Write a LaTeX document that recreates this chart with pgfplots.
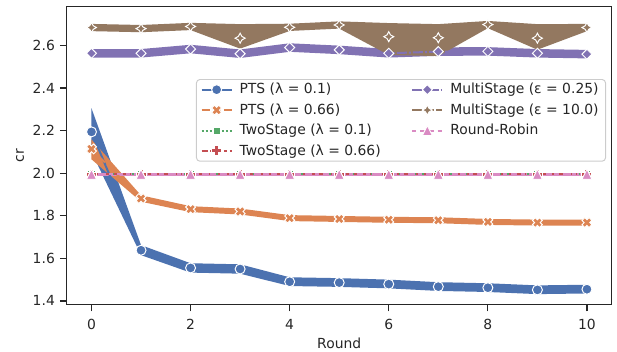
\documentclass[border=0pt]{standalone}
\usepackage{pgfplots}
\pgfplotsset{compat=1.18}
\usepackage{fontspec}
\setmainfont{DejaVu Sans}
\definecolor{sbblue}{HTML}{4C72B0}
\definecolor{sborange}{HTML}{DD8452}
\definecolor{sbgreen}{HTML}{55A868}
\definecolor{sbred}{HTML}{C44E52}
\definecolor{sbpurple}{HTML}{8172B3}
\definecolor{sbbrown}{HTML}{937860}
\definecolor{sbpink}{HTML}{DA8BC3}
\definecolor{txt}{HTML}{262626}
\definecolor{legframe}{HTML}{CCCCCC}

\pgfdeclareplotmark{sbX}{%
  \pgfpathmoveto{\pgfpoint{-0.424\pgfplotmarksize}{-0.99\pgfplotmarksize}}%
  \pgfpathlineto{\pgfpoint{-0.99\pgfplotmarksize}{-0.424\pgfplotmarksize}}%
  \pgfpathlineto{\pgfpoint{-0.566\pgfplotmarksize}{0pt}}%
  \pgfpathlineto{\pgfpoint{-0.99\pgfplotmarksize}{0.424\pgfplotmarksize}}%
  \pgfpathlineto{\pgfpoint{-0.424\pgfplotmarksize}{0.99\pgfplotmarksize}}%
  \pgfpathlineto{\pgfpoint{0pt}{0.566\pgfplotmarksize}}%
  \pgfpathlineto{\pgfpoint{0.424\pgfplotmarksize}{0.99\pgfplotmarksize}}%
  \pgfpathlineto{\pgfpoint{0.99\pgfplotmarksize}{0.424\pgfplotmarksize}}%
  \pgfpathlineto{\pgfpoint{0.566\pgfplotmarksize}{0pt}}%
  \pgfpathlineto{\pgfpoint{0.99\pgfplotmarksize}{-0.424\pgfplotmarksize}}%
  \pgfpathlineto{\pgfpoint{0.424\pgfplotmarksize}{-0.99\pgfplotmarksize}}%
  \pgfpathlineto{\pgfpoint{0pt}{-0.566\pgfplotmarksize}}%
  \pgfpathclose\pgfusepathqfillstroke}
\pgfdeclareplotmark{sbP}{%
  \pgfpathmoveto{\pgfpoint{-\pgfplotmarksize}{-0.4\pgfplotmarksize}}%
  \pgfpathlineto{\pgfpoint{-\pgfplotmarksize}{0.4\pgfplotmarksize}}%
  \pgfpathlineto{\pgfpoint{-0.4\pgfplotmarksize}{0.4\pgfplotmarksize}}%
  \pgfpathlineto{\pgfpoint{-0.4\pgfplotmarksize}{\pgfplotmarksize}}%
  \pgfpathlineto{\pgfpoint{0.4\pgfplotmarksize}{\pgfplotmarksize}}%
  \pgfpathlineto{\pgfpoint{0.4\pgfplotmarksize}{0.4\pgfplotmarksize}}%
  \pgfpathlineto{\pgfpoint{\pgfplotmarksize}{0.4\pgfplotmarksize}}%
  \pgfpathlineto{\pgfpoint{\pgfplotmarksize}{-0.4\pgfplotmarksize}}%
  \pgfpathlineto{\pgfpoint{0.4\pgfplotmarksize}{-0.4\pgfplotmarksize}}%
  \pgfpathlineto{\pgfpoint{0.4\pgfplotmarksize}{-\pgfplotmarksize}}%
  \pgfpathlineto{\pgfpoint{-0.4\pgfplotmarksize}{-\pgfplotmarksize}}%
  \pgfpathlineto{\pgfpoint{-0.4\pgfplotmarksize}{-0.4\pgfplotmarksize}}%
  \pgfpathclose\pgfusepathqfillstroke}
\pgfdeclareplotmark{sbsq}{%
  \pgfpathrectanglecorners{\pgfpoint{-0.707\pgfplotmarksize}{-0.707\pgfplotmarksize}}{\pgfpoint{0.707\pgfplotmarksize}{0.707\pgfplotmarksize}}%
  \pgfusepathqfillstroke}
\pgfdeclareplotmark{sbdiam}{%
  \pgfpathmoveto{\pgfpoint{0pt}{\pgfplotmarksize}}%
  \pgfpathlineto{\pgfpoint{\pgfplotmarksize}{0pt}}%
  \pgfpathlineto{\pgfpoint{0pt}{-\pgfplotmarksize}}%
  \pgfpathlineto{\pgfpoint{-\pgfplotmarksize}{0pt}}%
  \pgfpathclose\pgfusepathqfillstroke}
\pgfdeclareplotmark{sbstar}{%
  \pgfpathmoveto{\pgfpoint{0pt}{\pgfplotmarksize}}%
  \pgfpathlineto{\pgfpoint{0.354\pgfplotmarksize}{0.354\pgfplotmarksize}}%
  \pgfpathlineto{\pgfpoint{\pgfplotmarksize}{0pt}}%
  \pgfpathlineto{\pgfpoint{0.354\pgfplotmarksize}{-0.354\pgfplotmarksize}}%
  \pgfpathlineto{\pgfpoint{0pt}{-\pgfplotmarksize}}%
  \pgfpathlineto{\pgfpoint{-0.354\pgfplotmarksize}{-0.354\pgfplotmarksize}}%
  \pgfpathlineto{\pgfpoint{-\pgfplotmarksize}{0pt}}%
  \pgfpathlineto{\pgfpoint{-0.354\pgfplotmarksize}{0.354\pgfplotmarksize}}%
  \pgfpathclose\pgfusepathqfillstroke}
\pgfdeclareplotmark{sbtri}{%
  \pgfpathmoveto{\pgfpoint{0pt}{\pgfplotmarksize}}%
  \pgfpathlineto{\pgfpoint{\pgfplotmarksize}{-\pgfplotmarksize}}%
  \pgfpathlineto{\pgfpoint{-\pgfplotmarksize}{-\pgfplotmarksize}}%
  \pgfpathclose\pgfusepathqfillstroke}

\tikzset{
  sbline/.style={line width=1.45pt, mark size=3.6pt},
  mk/.style={mark options={solid, fill=#1, draw=white, line width=0.7pt}},
  sPTSa/.style={sbline, color=sbblue, solid, mark=*, mk=sbblue},
  sPTSb/.style={sbline, color=sborange, dash pattern=on 5.8pt off 2.2pt, mark=sbX, mk=sborange},
  sTSa/.style={sbline, color=sbgreen, dash pattern=on 1.45pt off 1.45pt, mark=sbsq, mk=sbgreen},
  sTSb/.style={sbline, color=sbred, dash pattern=on 4.35pt off 1.8pt on 2.2pt off 1.8pt, mark=sbP, mk=sbred},
  sMSa/.style={sbline, color=sbpurple, dash pattern=on 7.25pt off 1.45pt on 1.45pt off 1.45pt, mark=sbdiam, mk=sbpurple},
  sMSb/.style={sbline, color=sbbrown, dash pattern=on 7.25pt off 1.45pt on 2.9pt off 1.45pt on 2.9pt off 1.45pt, mark=sbstar, mk=sbbrown},
  sRR/.style={sbline, color=sbpink, dash pattern=on 2.9pt off 2.9pt on 4.35pt off 2.2pt, mark=sbtri, mk=sbpink},
}

\begin{document}
\begin{tikzpicture}
\begin{axis}[
  name=ax,
  scale only axis,
  width=392.2pt, height=214.2pt,
  xmin=-0.5, xmax=10.5,
  ymin=1.384, ymax=2.782,
  xtick={0,2,4,6,8,10},
  ytick={1.4,1.6,1.8,2.0,2.2,2.4,2.6},
  yticklabel style={/pgf/number format/fixed, /pgf/number format/fixed zerofill, /pgf/number format/precision=1},
  /pgf/number format/assume math mode=true,
  tick align=outside,
  tick pos=left,
  major tick length=5pt,
  axis line style={color=txt, line width=0.9pt},
  every tick/.style={color=txt, line width=0.9pt},
  tick label style={font=\fontsize{10}{12}\selectfont, color=txt},
  xticklabel style={yshift=-2.5pt},
  xlabel={Round},
  ylabel={cr},
  label style={font=\fontsize{10}{12}\selectfont, color=txt},
  xlabel style={at={(axis description cs:0.5,-0.13)}, anchor=center},
  ylabel style={at={(axis description cs:-0.0857,0.5)}, anchor=center},
  legend columns=2,
  legend cell align=left,
  legend image code/.code={\draw[mark repeat=2,mark phase=2] plot coordinates {(0pt,0pt) (10.8pt,0pt) (21.6pt,0pt)};},
  legend style={
    at={(0.2372,0.757)}, anchor=north west,
    draw=legframe, line width=0.7pt, rounded corners=2.5pt, fill=white,
    font=\fontsize{10}{12}\selectfont, text=txt,
    inner xsep=3pt, inner ysep=0.8pt,
    row sep=1.6pt,
    /tikz/every odd column/.append style={column sep=3pt},
    /tikz/every even column/.append style={column sep=20pt},
  },
]
% ---- confidence bands ----
\addplot[forget plot, draw=none, fill=sbblue] coordinates {
 (0,2.305) (1,1.662) (2,1.577) (3,1.572) (4,1.511) (5,1.507) (6,1.500) (7,1.488) (8,1.483) (9,1.473) (10,1.476)
 (10,1.435) (9,1.432) (8,1.442) (7,1.447) (6,1.459) (5,1.466) (4,1.470) (3,1.528) (2,1.533) (1,1.615) (0,2.100)};
\addplot[forget plot, draw=none, fill=sborange] coordinates {
 (0,2.158) (1,1.896) (2,1.845) (3,1.834) (4,1.803) (5,1.799) (6,1.795) (7,1.793) (8,1.785) (9,1.782) (10,1.782)
 (10,1.754) (9,1.754) (8,1.757) (7,1.765) (6,1.767) (5,1.771) (4,1.775) (3,1.806) (2,1.817) (1,1.866) (0,2.065)};
\addplot[forget plot, draw=none, fill=sbgreen] coordinates {
 (0,2.001) (10,2.001) (10,1.989) (0,1.989)};
\addplot[forget plot, draw=none, fill=sbred] coordinates {
 (0,2.001) (10,2.001) (10,1.989) (0,1.989)};
\addplot[forget plot, draw=none, fill=sbpurple] coordinates {
 (0,2.583) (1,2.583) (2,2.603) (3,2.581) (4,2.610) (5,2.599) (6,2.583) (7,2.591) (8,2.592) (9,2.583) (10,2.579)
 (10,2.539) (9,2.543) (8,2.552) (7,2.551) (6,2.543) (5,2.559) (4,2.570) (3,2.541) (2,2.563) (1,2.543) (0,2.543)};
\addplot[forget plot, draw=none, fill=sbbrown] coordinates {
 (0,2.701) (1,2.696) (2,2.706) (3,2.700) (4,2.702) (5,2.713) (6,2.705) (7,2.700) (8,2.715) (9,2.700) (10,2.701)
 (10,2.667) (9,2.580) (8,2.681) (7,2.550) (6,2.555) (5,2.679) (4,2.668) (3,2.585) (2,2.672) (1,2.662) (0,2.667)};
\addplot[forget plot, draw=none, fill=sbpink] coordinates {
 (0,2.001) (10,2.001) (10,1.989) (0,1.989)};
% ---- mean lines ----
\addplot[forget plot, sPTSa] coordinates {
 (0,2.194) (1,1.638) (2,1.555) (3,1.550) (4,1.490) (5,1.486) (6,1.479) (7,1.467) (8,1.462) (9,1.452) (10,1.455)};
\addplot[forget plot, sPTSb] coordinates {
 (0,2.114) (1,1.881) (2,1.831) (3,1.820) (4,1.789) (5,1.785) (6,1.781) (7,1.779) (8,1.771) (9,1.768) (10,1.768)};
\addplot[forget plot, sTSa] coordinates {
 (0,1.995) (1,1.995) (2,1.995) (3,1.995) (4,1.995) (5,1.995) (6,1.995) (7,1.995) (8,1.995) (9,1.995) (10,1.995)};
\addplot[forget plot, sTSb] coordinates {
 (0,1.995) (1,1.995) (2,1.995) (3,1.995) (4,1.995) (5,1.995) (6,1.995) (7,1.995) (8,1.995) (9,1.995) (10,1.995)};
\addplot[forget plot, sMSa] coordinates {
 (0,2.563) (1,2.563) (2,2.583) (3,2.561) (4,2.590) (5,2.579) (6,2.563) (7,2.571) (8,2.572) (9,2.563) (10,2.559)};
\addplot[forget plot, sMSb] coordinates {
 (0,2.684) (1,2.679) (2,2.689) (3,2.634) (4,2.685) (5,2.696) (6,2.641) (7,2.636) (8,2.698) (9,2.634) (10,2.684)};
\addplot[forget plot, sRR] coordinates {
 (0,1.995) (1,1.995) (2,1.995) (3,1.995) (4,1.995) (5,1.995) (6,1.995) (7,1.995) (8,1.995) (9,1.995) (10,1.995)};
% ---- legend (row-major order of a column-major legend) ----
\addlegendimage{sPTSa}
\addlegendentry{PTS (λ = 0.1)}
\addlegendimage{sMSa}
\addlegendentry{MultiStage (ε = 0.25)}
\addlegendimage{sPTSb}
\addlegendentry{PTS (λ = 0.66)}
\addlegendimage{sMSb}
\addlegendentry{MultiStage (ε = 10.0)}
\addlegendimage{sTSa}
\addlegendentry{TwoStage (λ = 0.1)}
\addlegendimage{sRR}
\addlegendentry{Round-Robin}
\addlegendimage{sTSb}
\addlegendentry{TwoStage (λ = 0.66)}
\end{axis}
\pgfresetboundingbox
\path ([shift={(-48pt,-33.6pt)}]ax.south west) rectangle ([shift={(3.8pt,4.8pt)}]ax.north east);
\end{tikzpicture}
\end{document}
